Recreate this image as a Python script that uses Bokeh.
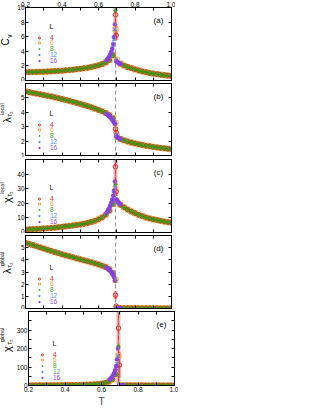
from bokeh.plotting import figure
from bokeh.layouts import column, row
from bokeh.models import (LinearAxis, FixedTicker, Span, Label, Legend, LegendItem, Range1d,
                          Div, NumeralTickFormatter, CustomLabelingPolicy)
from bokeh.core.properties import value
from bokeh.embed import file_html
from bokeh.resources import INLINE

FONT = "Liberation Sans"
Tc = 0.693

# temperatures
T_far = [0.20, 0.22, 0.24, 0.26, 0.28, 0.30, 0.32, 0.34, 0.36, 0.38, 0.40, 0.42, 0.44,
         0.46, 0.48, 0.50, 0.52, 0.54, 0.56, 0.58, 0.60, 0.62, 0.64, 0.66, 0.68,
         0.72, 0.74, 0.76, 0.78, 0.80, 0.82, 0.84, 0.86, 0.88, 0.90, 0.92, 0.94, 0.96, 0.98, 1.00]
T_peak = [0.693, 0.700]
T4_peak = [0.693, 0.697]
T_big = [0.645, 0.650, 0.655, 0.660, 0.665, 0.670, 0.675, 0.680, 0.685, 0.690,
         0.697, 0.700, 0.705, 0.710, 0.715, 0.720]

L_labels = ["4", "6", "8", "12", "16"]
colors = ["#e02a2a", "#f7a456", "#3c9a10", "#5a8cf0", "#8a3fe0"]

# (a) specific heat
cv_far = [1.14, 1.15, 1.16, 1.18, 1.19, 1.21, 1.23, 1.25, 1.28, 1.31, 1.35, 1.39, 1.43,
          1.48, 1.54, 1.60, 1.67, 1.75, 1.84, 1.95, 2.08, 2.25, 2.48, 2.82, 3.45,
          2.30, 2.05, 1.85, 1.68, 1.52, 1.38, 1.25, 1.13, 1.03, 0.95, 0.87, 0.80, 0.74, 0.68, 0.63]
cv_L6_peak = [7.0, 2.85]
cv_L8_peak = [9.6, 2.75]
cv_L4_peak = [9.0, 6.2]
cv_L4_err = [3.0, 0.7]
cv_L12 = [2.80, 2.95, 3.10, 3.30, 3.55, 3.85, 4.25, 4.80, 5.60, 7.00, 2.70, 2.60, 2.50, 2.42, 2.35, 2.28]
cv_L16 = [2.82, 2.97, 3.13, 3.34, 3.60, 3.93, 4.38, 5.00, 5.95, 7.70, 2.65, 2.56, 2.47, 2.39, 2.32, 2.26]

# (b) local lambda
laml_far = [5.45, 5.40, 5.35, 5.30, 5.25, 5.20, 5.15, 5.10, 5.04, 4.98, 4.92, 4.86, 4.80,
            4.73, 4.66, 4.59, 4.51, 4.43, 4.35, 4.26, 4.17, 4.07, 3.95, 3.80, 3.58,
            2.15, 2.05, 1.97, 1.90, 1.84, 1.78, 1.73, 1.68, 1.64, 1.60, 1.56, 1.53, 1.50, 1.47, 1.44]
laml_L6_peak = [3.25, 2.30]
laml_L8_peak = [3.22, 2.28]
laml_L4_peak = [2.85, 2.60]
laml_L4_err = [0.15, 0.10]
laml_L12 = [3.88, 3.83, 3.78, 3.72, 3.66, 3.60, 3.53, 3.45, 3.37, 3.28, 2.40, 2.34, 2.28, 2.23, 2.19, 2.15]
laml_L16 = [3.87, 3.82, 3.77, 3.71, 3.64, 3.57, 3.49, 3.40, 3.31, 3.20, 2.36, 2.31, 2.26, 2.21, 2.17, 2.14]

# (c) local chi
chil_far = [2.0, 2.15, 2.3, 2.45, 2.6, 2.75, 2.9, 3.1, 3.3, 3.6, 3.9, 4.2, 4.5,
            4.8, 5.1, 5.5, 6.0, 6.5, 7.2, 8.0, 9.0, 10.3, 12.2, 15.0, 19.5,
            19.0, 17.2, 15.7, 14.4, 13.2, 12.2, 11.2, 10.3, 9.6, 9.0, 8.5, 8.0, 7.5, 7.1, 6.7]
chil_L6_peak = [30.0, 21.5]
chil_L8_peak = [33.0, 21.2]
chil_L4_peak = [45.0, 28.0]
chil_L4_err = [12.0, 3.0]
chil_L12 = [13.5, 14.5, 15.6, 16.8, 18.2, 19.8, 21.6, 23.8, 26.5, 31.0, 22.5, 21.8, 21.2, 20.6, 20.0, 19.5]
chil_L16 = [13.6, 14.6, 15.8, 17.1, 18.6, 20.4, 22.5, 25.2, 28.5, 35.0, 22.8, 22.0, 21.3, 20.6, 20.0, 19.4]

# (d) global lambda
lamg_far = [5.40, 5.31, 5.22, 5.12, 5.02, 4.93, 4.83, 4.74, 4.64, 4.55, 4.45, 4.37, 4.29,
            4.21, 4.12, 4.04, 3.96, 3.88, 3.80, 3.71, 3.62, 3.52, 3.40, 3.22, 2.90,
            0.04, 0.03, 0.03, 0.03, 0.02, 0.02, 0.02, 0.02, 0.02, 0.02, 0.02, 0.01, 0.01, 0.01, 0.01]
lamg_L6_peak = [2.35, 0.06]
lamg_L8_peak = [2.30, 0.05]
lamg_L4_peak = [1.10, 0.20]
lamg_L4_err = [0.35, 0.10]
lamg_L12 = [3.35, 3.30, 3.24, 3.17, 3.10, 3.02, 2.92, 2.80, 2.65, 2.40, 0.06, 0.05, 0.04, 0.04, 0.03, 0.03]
lamg_L16 = [3.34, 3.29, 3.23, 3.16, 3.08, 2.99, 2.88, 2.75, 2.58, 2.30, 0.05, 0.04, 0.04, 0.03, 0.03, 0.03]

# (e) global chi
chig_far = [0.4, 0.5, 0.6, 0.7, 0.8, 0.9, 1.0, 1.1, 1.3, 1.5, 1.7, 2.0, 2.3,
            2.7, 3.1, 3.6, 4.3, 5.1, 6.2, 7.6, 10.0, 14.0, 21.0, 33.0, 60.0,
            1.0, 0.8, 0.7, 0.6, 0.5, 0.5, 0.4, 0.4, 0.3, 0.3, 0.3, 0.3, 0.2, 0.2, 0.2]
chig_L6_peak = [160.0, 2.0]
chig_L8_peak = [210.0, 1.5]
chig_L4_peak = [310.0, 110.0]
chig_L4_err = [300.0, 70.0]
chig_L12 = [32, 36, 41, 47, 54, 63, 75, 92, 118, 160, 1.5, 1.2, 1.0, 0.8, 0.7, 0.6]
chig_L16 = [33, 37, 43, 50, 58, 69, 84, 105, 140, 200, 1.3, 1.1, 0.9, 0.7, 0.6, 0.5]

x_major = [0.2, 0.4, 0.6, 0.8, 1.0]
x_minor = [0.3, 0.5, 0.7, 0.9]

FW = 146      # frame width
DIV_W = 18    # width of the y-title column
BL = 12       # left border of each figure (tick labels)

panels = [
    dict(tag="(a)", yr=(0, 10), ymaj=[0, 2, 4, 6, 8, 10], ymin=[], fh=73, bt=10, bb=1,
         far=cv_far, p6=cv_L6_peak, p8=cv_L8_peak, p4=cv_L4_peak, e4=cv_L4_err,
         b12=cv_L12, b16=cv_L16, leg=19,
         title=[("C", 11, 45, 10), ("v", 14.5, 38.5, 6.5)]),
    dict(tag="(b)", yr=(1, 6), ymaj=[1, 2, 3, 4, 5], ymin=[], fh=72, bt=2, bb=2,
         far=laml_far, p6=laml_L6_peak, p8=laml_L8_peak, p4=laml_L4_peak, e4=laml_L4_err,
         b12=laml_L12, b16=laml_L16, leg=30,
         title=[("λ", 12, 38.5, 11), ("local", 7.5, 28, 5.5), ("τ₂", 15, 32.5, 6.5)]),
    dict(tag="(c)", yr=(0, 50), ymaj=[0, 10, 20, 30, 40], ymin=[], fh=73, bt=2, bb=1,
         far=chil_far, p6=chil_L6_peak, p8=chil_L8_peak, p4=chil_L4_peak, e4=chil_L4_err,
         b12=chil_L12, b16=chil_L16, leg=28,
         title=[("χ", 11.5, 43, 11), ("local", 7.5, 31, 5.5), ("τ₂", 15, 36.5, 6.5)]),
    dict(tag="(d)", yr=(0, 6), ymaj=[0, 1, 2, 3, 4, 5], ymin=[], fh=73, bt=2, bb=1,
         far=lamg_far, p6=lamg_L6_peak, p8=lamg_L8_peak, p4=lamg_L4_peak, e4=lamg_L4_err,
         b12=lamg_L12, b16=lamg_L16, leg=32,
         title=[("λ", 12, 37.5, 11), ("global", 7.5, 25.5, 5.5), ("τ₂", 15, 31.5, 6.5)]),
    dict(tag="(e)", yr=(0, 400), ymaj=[0, 100, 200, 300], ymin=[50, 150, 250, 350], fh=74, bt=2, bb=18,
         far=chig_far, p6=chig_L6_peak, p8=chig_L8_peak, p4=chig_L4_peak, e4=chig_L4_err,
         b12=chig_L12, b16=chig_L16, leg=32,
         title=[("χ", 11.5, 40, 11), ("global", 7.5, 25.5, 5.5), ("τ₂", 15, 32.5, 6.5)]),
]

no_labels = CustomLabelingPolicy(code="return [];")


def make_axis(major, minor, show, label=None, xfmt=False):
    ax = LinearAxis(ticker=FixedTicker(ticks=major, minor_ticks=minor))
    if xfmt:
        ax.formatter = NumeralTickFormatter(format="0.0")
    ax.major_tick_in = 3
    ax.major_tick_out = 0
    ax.minor_tick_in = 3
    ax.minor_tick_out = 0
    ax.axis_line_color = "black"
    ax.major_tick_line_color = "black"
    ax.minor_tick_line_color = "black"
    ax.major_label_text_font = FONT
    ax.major_label_text_color = "black"
    if show:
        ax.major_label_text_font_size = "6.5px"
        ax.major_label_standoff = 1
    else:
        ax.major_label_policy = no_labels
        ax.major_label_text_font_size = "0px"
        ax.major_label_standoff = 0
    if label:
        ax.axis_label = label
        ax.axis_label_text_font = FONT
        ax.axis_label_text_font_style = "normal"
        ax.axis_label_text_font_size = "10px"
        ax.axis_label_standoff = 1
    return ax


rows = []
n = len(panels)
for i, pn in enumerate(panels):
    fh = pn["fh"]
    p = figure(frame_width=FW, frame_height=fh,
               x_range=Range1d(0.2, 1.0), y_range=Range1d(*pn["yr"]),
               x_axis_type=None, y_axis_type=None,
               output_backend="svg", toolbar_location=None,
               min_border_left=BL, min_border_right=4,
               min_border_top=pn["bt"], min_border_bottom=pn["bb"])
    p.outline_line_color = "black"
    p.background_fill_color = "white"
    p.border_fill_color = "white"

    p.add_layout(make_axis(pn["ymaj"], pn["ymin"], True), "left")
    p.add_layout(make_axis(pn["ymaj"], pn["ymin"], False), "right")
    p.add_layout(make_axis(x_major, x_minor, i == 0, xfmt=True), "above")
    p.add_layout(make_axis(x_major, x_minor, i == n - 1, "T" if i == n - 1 else None, xfmt=True), "below")

    p.add_layout(Span(location=Tc, dimension="height", line_color="#8c8c8c",
                      line_dash="4 3", line_width=1))

    # L=4 error bars near Tc
    lo = [y - e for y, e in zip(pn["p4"], pn["e4"])]
    hi = [y + e for y, e in zip(pn["p4"], pn["e4"])]
    p.segment(x0=T4_peak, y0=lo, x1=T4_peak, y1=hi, line_color="#f4a3a3", line_width=4, line_alpha=0.85)
    p.segment(x0=T4_peak, y0=lo, x1=T4_peak, y1=hi, line_color=colors[0], line_width=1)

    r6 = p.scatter(T_far + T_peak, pn["far"] + pn["p6"], marker="square", size=5,
                   line_color=colors[1], fill_color=None, line_width=1)
    r4 = p.scatter(T_far + T4_peak, pn["far"] + pn["p4"], marker="circle", size=4.5,
                   line_color=colors[0], fill_color=None, line_width=1)
    r8 = p.scatter(T_far + T_peak, pn["far"] + pn["p8"], marker="diamond", size=5.5,
                   line_color=colors[2], fill_color=colors[2], line_width=0.5)
    r12 = p.scatter(T_big, pn["b12"], marker="x", size=4.5, line_color=colors[3], line_width=1.2)
    r16 = p.scatter(T_big, pn["b16"], marker="asterisk", size=4.5, line_color=colors[4], line_width=1.2)
    rends = [r4, r6, r8, r12, r16]

    # panel tag
    p.add_layout(Label(x=FW - 13, y=fh - 13, x_units="screen", y_units="screen", text=pn["tag"],
                       text_font=FONT, text_font_size="8px", text_align="center",
                       text_baseline="middle", text_color="black"))

    # legend: title and one small legend per system size (coloured labels)
    top = pn["leg"]
    p.add_layout(Label(x=26, y=fh - top, x_units="screen", y_units="screen", text="L",
                       text_font=FONT, text_font_size="7px", text_align="center",
                       text_baseline="middle", text_color="black"))
    for k, (lab, r, col) in enumerate(zip(L_labels, rends, colors)):
        cy = fh - (top + 9.5 + 5.8 * k)
        leg = Legend(items=[LegendItem(label=value(lab), renderers=[r])],
                     location=(10, cy - 5), background_fill_alpha=0, border_line_color=None,
                     padding=0, margin=0, spacing=0, glyph_width=8, glyph_height=5,
                     label_width=5, label_height=5, label_standoff=7,
                     label_text_font=FONT, label_text_font_size="6.5px",
                     label_text_color=col)
        p.add_layout(leg)

    # y-axis title (symbol with super/subscripts) as rotated HTML text
    fig_h = pn["bt"] + fh + pn["bb"]
    spans = "".join(
        f'<span style="position:absolute;left:{x}px;top:{y}px;'
        f'transform:translate(-50%,-50%) rotate(-90deg);font-size:{fs}px;'
        f'line-height:1;white-space:nowrap;">{txt}</span>'
        for txt, x, y, fs in pn["title"])
    html = (f'<div style="position:relative;width:{DIV_W}px;height:{fig_h}px;'
            f"font-family:'Liberation Sans',sans-serif;color:#000;\">{spans}</div>")
    d = Div(text=html, width=DIV_W, height=fig_h, margin=0)
    rows.append(row(d, p, spacing=0, margin=0))

layout = column(*rows, spacing=0, margin=(-3, 0, 0, -5))
open("out.html", "w").write(file_html(layout, INLINE))
